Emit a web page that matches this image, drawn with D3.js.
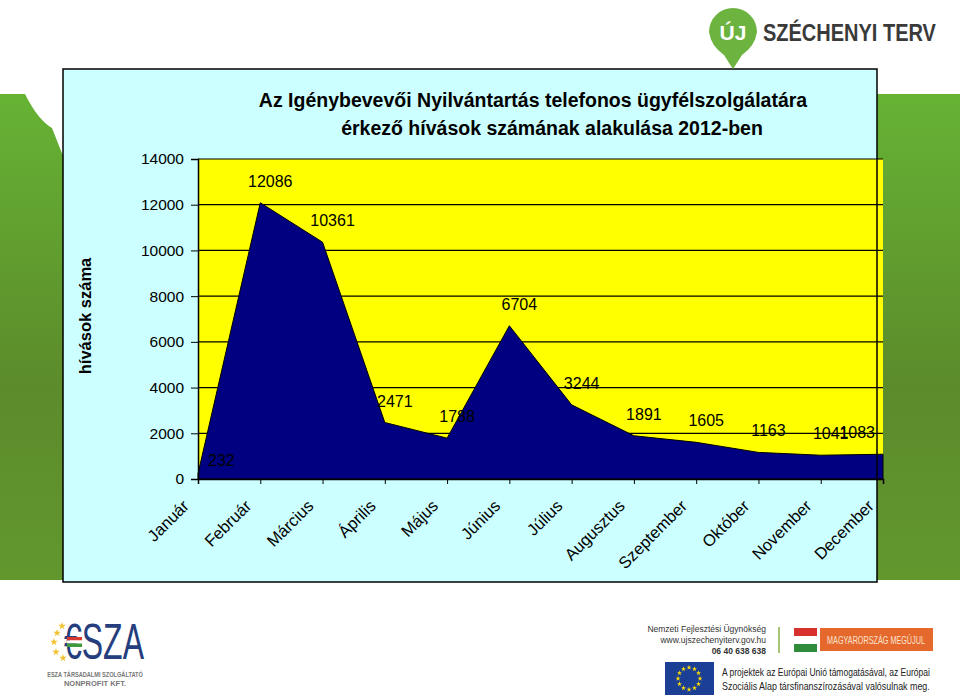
<!DOCTYPE html>
<html><head><meta charset="utf-8">
<script src="https://cdn.jsdelivr.net/npm/d3@7"></script>
<style>html,body{margin:0;padding:0;background:#fff;}svg{display:block;font-family:"Liberation Sans",Arial,sans-serif;}</style>
</head><body>
<svg id="c" width="960" height="698"></svg>
<script>
const months = ["Január","Február","Március","Április","Május","Június","Július","Augusztus","Szeptember","Október","November","December"];
const calls = [232,12086,10361,2471,1788,6704,3244,1891,1605,1163,1041,1083];
const yTicks = [0,2000,4000,6000,8000,10000,12000,14000];
const titleLines = ["Az Igénybevevői Nyilvántartás telefonos ügyfélszolgálatára","érkező hívások számának alakulása 2012-ben"];
const yTitle = "hívások száma";

const svg = d3.select("#c");
const defs = svg.append("defs");
const g1 = defs.append("linearGradient").attr("id","grn").attr("x1",0).attr("y1",0).attr("x2",0).attr("y2",1);
g1.append("stop").attr("offset","0").attr("stop-color","#66b334");
g1.append("stop").attr("offset","0.6").attr("stop-color","#5c8b2b");
g1.append("stop").attr("offset","1").attr("stop-color","#62972e");

// fit text horizontally to a target width via scaling
function fitText(sel, x0, y0, w, anchor, sy){
  const n = sel.node().getComputedTextLength();
  const s = Math.min(1, w / n);
  sel.attr("x",0).attr("y",0).attr("text-anchor",anchor||"start")
     .attr("transform",`translate(${x0},${y0}) scale(${s},${sy||1})`);
  return sel;
}

// green side bands
svg.append("path").attr("d","M0,94 L25,94 Q38,120 52,128 L63,156 L63,580 L0,580 Z").attr("fill","url(#grn)");
svg.append("rect").attr("x",877).attr("y",94).attr("width",83).attr("height",486).attr("fill","url(#grn)");

// chart box
svg.append("rect").attr("x",63).attr("y",69).attr("width",814).attr("height",513).attr("fill","#ccffff");

const x = d3.scalePoint().domain(months).range([198,883]);
const y = d3.scaleLinear().domain([0,14000]).range([479,159]);

// plot area
svg.append("rect").attr("x",198).attr("y",y(14000)).attr("width",685).attr("height",y(0)-y(14000)).attr("fill","#ffff00");

// gridlines
svg.append("g").selectAll("line").data(yTicks.filter(d=>d>0)).join("line")
  .attr("x1",198).attr("x2",883).attr("y1",d=>y(d)).attr("y2",d=>y(d))
  .attr("stroke","#000").attr("stroke-width",1.2);

// area
const area = d3.area().x((d,i)=>x(months[i])).y0(y(0)).y1(d=>y(d));
svg.append("path").datum(calls).attr("d",area).attr("fill","#000080").attr("stroke","#000").attr("stroke-width",1);

// axes
const yAxis = d3.axisLeft(y).tickValues(yTicks).tickFormat(d3.format("d")).tickSize(7).tickPadding(7);
const ya = svg.append("g").attr("transform","translate(198,0)").call(yAxis);
ya.select(".domain").attr("stroke","#000").attr("stroke-width",1.5);
ya.selectAll("text").attr("font-size","15.5px").attr("fill","#000").attr("font-family","Liberation Sans, Arial, sans-serif");

const xAxis = d3.axisBottom(x).tickSize(5).tickFormat("");
const xa = svg.append("g").attr("transform","translate(0,479)").call(xAxis);
xa.select(".domain").attr("stroke","#000").attr("stroke-width",1.5);
svg.append("g").selectAll("text").data(months).join("text")
  .attr("transform",d=>`translate(${x(d)-8},507) rotate(-45)`)
  .attr("text-anchor","end").attr("font-size","16.5px").attr("fill","#000").text(d=>d);

// data labels
svg.append("g").selectAll("text").data(calls).join("text")
  .attr("x",(d,i)=> i===0 ? x(months[i])+10 : (i===calls.length-1 ? x(months[i])-8 : x(months[i])+10))
  .attr("y",(d,i)=> i===0 ? y(d)-8 : y(d)-16)
  .attr("text-anchor",(d,i)=> i===0 ? "start" : (i===calls.length-1 ? "end" : "middle"))
  .attr("font-size","16px").attr("fill","#000").text(d=>d);

// box border on top
svg.append("rect").attr("x",63).attr("y",69).attr("width",814).attr("height",513).attr("fill","none").attr("stroke","#000").attr("stroke-width",1.5);

// titles
svg.append("text").attr("x",533).attr("y",107).attr("text-anchor","middle").attr("font-size","19.5px").attr("font-weight","bold").text(titleLines[0]);
svg.append("text").attr("x",552).attr("y",135).attr("text-anchor","middle").attr("font-size","19.5px").attr("font-weight","bold").text(titleLines[1]);
svg.append("text").attr("transform","translate(91,316) rotate(-90)").attr("text-anchor","middle").attr("font-size","16.5px").attr("font-weight","bold").text(yTitle);

// Széchenyi Terv logo
const lg = svg.append("g");
lg.append("path").attr("d","M709,32 A24,24 0 1 1 757,32 Q755,46 742,55 L733,69 L724,55 Q711,46 709,32 Z").attr("fill","#6cb33f");
lg.append("text").attr("x",733).attr("y",40).attr("text-anchor","middle").attr("font-size","21px").attr("font-weight","bold").attr("fill","#fff").text("ÚJ");
fitText(lg.append("text").attr("font-size","22px").attr("font-weight","bold").attr("fill","#3a3a3a").text("SZÉCHENYI TERV"), 763, 41, 173, "start", 1.05);

// ESZA logo
const eg = svg.append("g");
const starPts = [[62,626],[57,633],[54,642],[56,652],[63,658]];
const star = d3.symbol().type(d3.symbolStar).size(18);
eg.selectAll("path.s").data(starPts).join("path").attr("class","s").attr("transform",d=>`translate(${d[0]},${d[1]})`).attr("d",star()).attr("fill","#f2c12e");
fitText(eg.append("text").attr("font-size","40px").attr("fill","#253e7d").text("€SZA"), 64, 659, 80, "start", 1.25);
eg.append("rect").attr("x",67).attr("y",637).attr("width",15).attr("height",3.5).attr("fill","#d63a2f");
eg.append("rect").attr("x",67).attr("y",640.5).attr("width",15).attr("height",3).attr("fill","#fff");
eg.append("rect").attr("x",67).attr("y",643.5).attr("width",15).attr("height",3.5).attr("fill","#3e9a3a");
fitText(eg.append("text").attr("font-size","7.5px").attr("font-weight","bold").attr("fill","#777").text("ESZA TÁRSADALMI SZOLGÁLTATÓ"), 95, 677, 96, "middle");
eg.append("text").attr("x",95).attr("y",686).attr("text-anchor","middle").attr("font-size","7.5px").attr("font-weight","bold").attr("fill","#777").text("NONPROFIT KFT.");

// Bottom right block
const br = svg.append("g").attr("fill","#333");
["Nemzeti Fejlesztési Ügynökség","www.ujszechenyiterv.gov.hu","06 40 638 638"].forEach((t,i)=>{
  br.append("text").attr("x",766).attr("y",632+i*11).attr("text-anchor","end").attr("font-size","8.5px").attr("font-weight", i===2?"bold":"normal").text(t);
});
svg.append("line").attr("x1",779).attr("x2",779).attr("y1",627).attr("y2",653).attr("stroke","#8bb04a").attr("stroke-width",1.5);
svg.append("rect").attr("x",794).attr("y",628).attr("width",23).attr("height",8).attr("fill","#d8312b");
svg.append("rect").attr("x",794).attr("y",636).attr("width",23).attr("height",8).attr("fill","#fff");
svg.append("rect").attr("x",794).attr("y",644).attr("width",23).attr("height",8).attr("fill","#2e8b3a");
svg.append("rect").attr("x",820).attr("y",628).attr("width",113).attr("height",23).attr("fill","#e5692d");
fitText(svg.append("text").attr("font-size","10.5px").attr("fill","#fbe3cf").text("MAGYARORSZÁG MEGÚJUL"), 876, 644, 98, "middle");
svg.append("rect").attr("x",665).attr("y",662).attr("width",49).attr("height",33).attr("fill","#1b3f95");
const eu = svg.append("g");
d3.range(12).forEach(k=>{
  const a = k*Math.PI/6;
  eu.append("path").attr("transform",`translate(${689+11*Math.sin(a)},${678.5-11*Math.cos(a)})`).attr("d",d3.symbol().type(d3.symbolStar).size(8)()).attr("fill","#ffdd00");
});
fitText(svg.append("text").attr("font-size","11px").attr("fill","#222").text("A projektek az Európai Unió támogatásával, az Európai"), 722, 676, 208);
fitText(svg.append("text").attr("font-size","11px").attr("fill","#222").text("Szociális Alap társfinanszírozásával valósulnak meg."), 722, 690, 208);
</script>
</body></html>
